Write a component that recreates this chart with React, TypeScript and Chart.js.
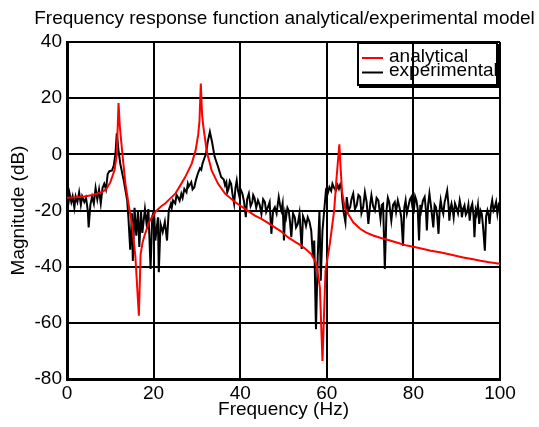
import React, { useEffect, useRef } from 'react';
import { Chart, registerables } from 'chart.js';

Chart.register(...registerables);

const titleText = 'Frequency response function analytical/experimental model';
const xTitle = 'Frequency (Hz)';
const yTitle = 'Magnitude (dB)';
const seriesNames = ['analytical', 'experimental'];
const seriesColors = ['#ff0000', '#000000'];
const xTickValues = [0, 20, 40, 60, 80, 100];
const yTickValues = [-80, -60, -40, -20, 0, 20, 40];

const analyticalFreq = [
  0, 2, 4, 6, 8, 9, 10, 11, 11.5, 11.9, 12.2, 12.5, 13, 13.5, 14.2, 15, 15.8, 16.6, 17, 17.5,
  18.1, 19, 19.6, 20.5, 21.9, 22.6, 24, 25, 26, 27.3, 28.8, 29.7, 30.3, 30.6, 30.9, 31.2, 31.5,
  32.3, 33.4, 34.9, 36.5, 38.8, 41.1, 43.4, 44.9, 46.5, 48, 49.5, 51, 52.5, 54.1, 55.3, 56.4,
  57.6, 58.4, 59, 59.7, 60.7, 61.7, 62.2, 62.9, 63.2, 63.5, 64.1, 64.9, 66.1, 67.7, 69, 70.7,
  72.5, 74.6, 76.5, 78.5, 80.5, 82.3, 84, 86.1, 88, 90, 91.5, 93.5, 95.5, 97.5, 100,
];
const analyticalMag = [
  -15.5, -15.3, -15, -14.5, -13.5, -12.5, -10, -5.5, 0, 18.3, 10, 5, -3, -10.5, -17.6, -24.8,
  -36.6, -57.5, -35.5, -31, -28, -24, -22.4, -20.3, -18.3, -17.6, -15.5, -14, -11.5, -8.1, -3.3,
  1.4, 7, 12, 25.2, 14, 9.8, 0.8, -5.7, -10.5, -14, -17, -19.4, -21.8, -23, -24.5, -26, -27.5,
  -29.5, -31, -32.5, -34, -35.5, -39, -47.4, -73.6, -41.4, -31.9, -20, -9.3, 3.6, -5, -12.9,
  -18.8, -21.2, -24.2, -26.5, -27.8, -28.9, -29.8, -30.7, -31.6, -32.5, -33.1, -33.7, -34.3,
  -34.9, -35.5, -36.2, -36.7, -37.3, -37.9, -38.4, -39,
];

// experimental measurement: [frequency Hz, magnitude dB]
const experimentalLowBand: [number, number][] = [
  [0, -12], [0.3, -18], [0.6, -14], [1, -17], [1.3, -15], [1.7, -19], [2, -15], [2.4, -17],
  [2.8, -13.5], [3.2, -18], [3.5, -15], [4, -17], [4.4, -15.5], [4.8, -20], [5, -26], [5.4, -18],
  [5.8, -15], [6.2, -17.5], [6.6, -12], [7, -16], [7.4, -12.5], [7.8, -17.5], [8.2, -12],
  [8.6, -10.5], [9, -12.5], [9.4, -7], [9.8, -6], [10.4, -5.7], [10.8, -4], [11.2, 0.3],
  [11.5, 7.5], [11.9, 1.4], [12.3, -3.3], [13.1, -9.3], [13.9, -16.4], [14.2, -23], [14.6, -34],
  [15, -21], [15.2, -38], [15.6, -19], [16, -29], [16.4, -20], [16.7, -33], [17.1, -20.5],
  [17.4, -28], [18, -19.5], [18.4, -25], [18.8, -19.5], [19.3, -40.8], [19.7, -22], [20.1, -20],
  [20.4, -30.7], [21, -22.4], [21.2, -42], [21.6, -24.8], [22.1, -27.7], [22.6, -24],
  [23.1, -30.7], [23.5, -20],
];
const experimentalMidBand: [number, number][] = [
  [24, -17.6], [24.2, -19], [24.5, -16.4], [25, -17.5], [25.3, -14.5], [25.6, -15.2], [26, -16.5],
  [26.4, -14], [26.7, -15.5], [27.1, -12.3], [27.6, -13.5], [27.9, -10.5], [28.1, -11.5],
  [28.7, -9.9], [29, -12.5], [29.4, -11.7], [29.8, -9], [30.2, -6.9], [30.7, -5], [31, -5.5],
  [31.3, -3.3], [31.7, -1.5], [32.1, 0.2], [32.5, 4.4], [33, 8], [33.5, 4.4], [34.1, -0.9],
  [34.9, -4.5], [35.6, -8.1], [36.2, -9], [36.5, -11], [36.8, -9.9], [37, -13.5], [37.3, -12.3],
  [37.6, -9.5], [37.9, -10.5], [38.2, -14], [38.6, -17.6], [38.9, -12], [39.2, -9.3], [39.5, -13],
  [39.8, -15], [40.1, -12.5], [40.5, -14], [40.9, -17], [41.3, -22.4], [41.6, -16], [42, -14],
  [42.4, -18.5], [42.8, -17], [43, -14.5], [43.3, -15.5], [43.7, -19], [44.1, -16.4], [44.5, -18],
  [44.9, -21.2], [45.3, -16], [45.7, -17], [46, -20.5], [46.4, -18.8], [46.8, -17], [47.2, -28.3],
  [47.6, -20], [48, -18.8], [48.4, -21], [48.9, -15.2], [49.2, -18], [49.5, -20], [49.8, -17.5],
  [50.1, -30.7], [50.4, -21], [50.6, -22.4], [50.9, -19], [51.2, -20], [51.5, -24], [51.8, -29.5],
  [52.2, -21], [52.6, -22.4], [52.9, -26], [53.3, -24.8], [53.7, -21], [54.2, -33.7], [54.5, -22],
  [54.9, -23.6], [55.2, -25.5], [55.6, -22.4], [56, -24], [56.4, -27.1], [56.8, -36.7],
  [57.1, -30.7], [57.5, -62.3], [57.9, -36.7], [58.3, -20], [58.6, -45], [59, -27.1], [59.4, -20],
  [59.8, -12.9], [60.2, -14], [60.6, -11.7], [61, -13], [61.3, -10.5], [61.7, -12], [62.1, -12.9],
  [62.5, -11], [62.8, -12.3], [63.1, -10.8], [63.4, -12.3], [63.6, -16.4], [63.9, -20.6],
  [64.3, -24.2],
];
const experimentalHighBand: [number, number][] = [
  [64.6, -15.2], [65, -20], [65.4, -18.8], [65.7, -16], [66.1, -14], [66.5, -19.5], [66.9, -18.2],
  [67.3, -14.5], [67.7, -15.2], [68, -21], [68.4, -18.8], [68.8, -13.5], [69.2, -17], [69.6, -24.8],
  [70, -18], [70.3, -14.6], [70.7, -18.5], [71.1, -20], [71.5, -15.5], [71.9, -16.4], [72.1, -19],
  [72.4, -23], [72.7, -18], [73, -17.6], [73.4, -40.8], [73.8, -20], [74.1, -15.5], [74.4, -17],
  [74.9, -23.6], [75.3, -18], [75.7, -17], [76, -20.5], [76.4, -16.4], [76.8, -19], [77.2, -22.4],
  [77.6, -32.5], [77.9, -19], [78.2, -16.4], [78.5, -21], [78.8, -18.8], [79.2, -16], [79.5, -15.2],
  [79.8, -19], [80.1, -20], [80.4, -15], [80.7, -16.4], [81, -19.5], [81.3, -30.7], [81.6, -18],
  [81.8, -20], [82.2, -16.5], [82.6, -15.2], [82.9, -20], [83.1, -27.1], [83.4, -18], [83.7, -14],
  [84.1, -19], [84.6, -26], [84.9, -18], [85.2, -18.8], [85.5, -22], [85.8, -28.3], [86.1, -19],
  [86.3, -16.4], [86.6, -19.5], [86.9, -21.2], [87.2, -17], [87.4, -15.8], [87.8, -12.9],
  [88.1, -18], [88.3, -23.6], [88.6, -19], [88.8, -17.6], [89.1, -20], [89.3, -22.4], [89.6, -17.5],
  [89.9, -18.8], [90.3, -21], [90.7, -16.4], [91, -19], [91.2, -22.4], [91.5, -19.5], [91.8, -18.2],
  [92.1, -21.5], [92.4, -20.6], [92.7, -18], [93, -23.6], [93.3, -19], [93.6, -17.6], [93.9, -22],
  [94.1, -29.5], [94.4, -20], [94.6, -21.2], [94.9, -18], [95.2, -24.8], [95.5, -20], [95.8, -21.2],
  [96.1, -26], [96.5, -34.3], [96.8, -22], [97.1, -20], [97.4, -22], [97.6, -24.8], [97.9, -19],
  [98.2, -16.4], [98.5, -20], [98.8, -18.8], [99.1, -17], [99.4, -21.2], [99.7, -18], [100, -19],
];

const FONT = "'Liberation Sans', Arial, Helvetica, sans-serif";
const FONT_SIZE = 19;
const TITLE_SIZE = 19;

const titlePlugin = {
  id: 'axesTitle',
  afterDraw(chart: any) {
    const { ctx, chartArea } = chart;
    ctx.save();
    ctx.font = `${TITLE_SIZE}px ${FONT}`;
    ctx.fillStyle = '#000';
    ctx.textAlign = 'center';
    ctx.textBaseline = 'alphabetic';
    ctx.fillText(titleText, (chartArea.left + chartArea.right) / 2 + 1, 24);
    ctx.restore();
  },
};

const legendPlugin = {
  id: 'boxLegend',
  beforeDraw(chart: any) {
    const { ctx, chartArea } = chart;
    const right = chartArea.right - 2;
    const top = chartArea.top;
    const w = 141;
    const h = 44;
    const left = right - w;
    ctx.save();
    ctx.fillStyle = '#fff';
    ctx.fillRect(left, top, w, h);
    ctx.strokeStyle = '#000';
    ctx.lineWidth = 2;
    ctx.strokeRect(left + 1, top + 1, w - 2, h - 2);
    ctx.fillStyle = '#000';
    ctx.fillRect(left + 2, top + h - 1, w + 1, 3);
    ctx.fillRect(right - 1, top + 2, 3, h);
    ctx.font = `${FONT_SIZE}px ${FONT}`;
    ctx.textAlign = 'left';
    ctx.textBaseline = 'alphabetic';
    const lineYs = [top + 16, top + 30.5];
    const textYs = [top + 20, top + 33.5];
    seriesNames.forEach((name, i) => {
      ctx.strokeStyle = seriesColors[i];
      ctx.lineWidth = 2;
      ctx.beginPath();
      ctx.moveTo(left + 5, lineYs[i]);
      ctx.lineTo(left + 26, lineYs[i]);
      ctx.stroke();
      ctx.fillStyle = '#000';
      ctx.fillText(name, left + 32, textYs[i]);
    });
    ctx.restore();
  },
};

export default function App() {
  const canvasRef = useRef<HTMLCanvasElement | null>(null);

  useEffect(() => {
    const canvas = canvasRef.current;
    if (!canvas) return;
    const analyticalPoints = analyticalFreq.map((x, i) => ({ x, y: analyticalMag[i] }));
    const experimentalPoints = [...experimentalLowBand, ...experimentalMidBand, ...experimentalHighBand].map(
      ([x, y]) => ({ x, y })
    );
    const chart = new Chart(canvas, {
      type: 'line',
      data: {
        datasets: [
          {
            label: seriesNames[0],
            data: analyticalPoints,
            borderColor: seriesColors[0],
            backgroundColor: seriesColors[0],
            borderWidth: 2,
            pointRadius: 0,
            tension: 0,
            fill: false,
          },
          {
            label: seriesNames[1],
            data: experimentalPoints,
            borderColor: seriesColors[1],
            backgroundColor: seriesColors[1],
            borderWidth: 2,
            pointRadius: 0,
            tension: 0,
            fill: false,
          },
        ],
      },
      options: {
        responsive: false,
        animation: false,
        devicePixelRatio: 1,
        layout: { padding: { top: 42, right: 39, bottom: 0, left: 0 } },
        plugins: {
          legend: { display: false },
          title: { display: false },
          tooltip: { enabled: false },
        },
        scales: {
          x: {
            type: 'linear',
            min: 0,
            max: 100,
            afterBuildTicks: (s: any) => {
              s.ticks = xTickValues.map((v) => ({ value: v }));
            },
            afterFit: (s: any) => {
              s.height = 48;
            },
            grid: { color: '#000', lineWidth: 2, drawTicks: false },
            border: { color: '#000', width: 3 },
            ticks: {
              color: '#000',
              padding: 3,
              maxRotation: 0,
              font: { family: FONT, size: FONT_SIZE },
            },
            title: {
              display: true,
              text: xTitle,
              color: '#000',
              font: { family: FONT, size: FONT_SIZE },
              padding: { top: 0, bottom: 5.6 },
            },
          },
          y: {
            type: 'linear',
            min: -80,
            max: 40,
            afterBuildTicks: (s: any) => {
              s.ticks = yTickValues.map((v) => ({ value: v }));
            },
            afterFit: (s: any) => {
              s.width = 67;
            },
            grid: { color: '#000', lineWidth: 2, drawTicks: false },
            border: { color: '#000', width: 3 },
            ticks: {
              color: '#000',
              padding: 5,
              font: { family: FONT, size: FONT_SIZE },
            },
            title: {
              display: true,
              text: yTitle,
              color: '#000',
              font: { family: FONT, size: FONT_SIZE },
              padding: { top: 7.6, bottom: 0 },
            },
          },
        },
      },
      plugins: [legendPlugin, titlePlugin],
    });
    return () => chart.destroy();
  }, []);

  return (
    <div style={{ position: 'fixed', left: 0, top: 0, width: 539, height: 427, background: '#fff' }}>
      <canvas ref={canvasRef} width={539} height={427} />
    </div>
  );
}
